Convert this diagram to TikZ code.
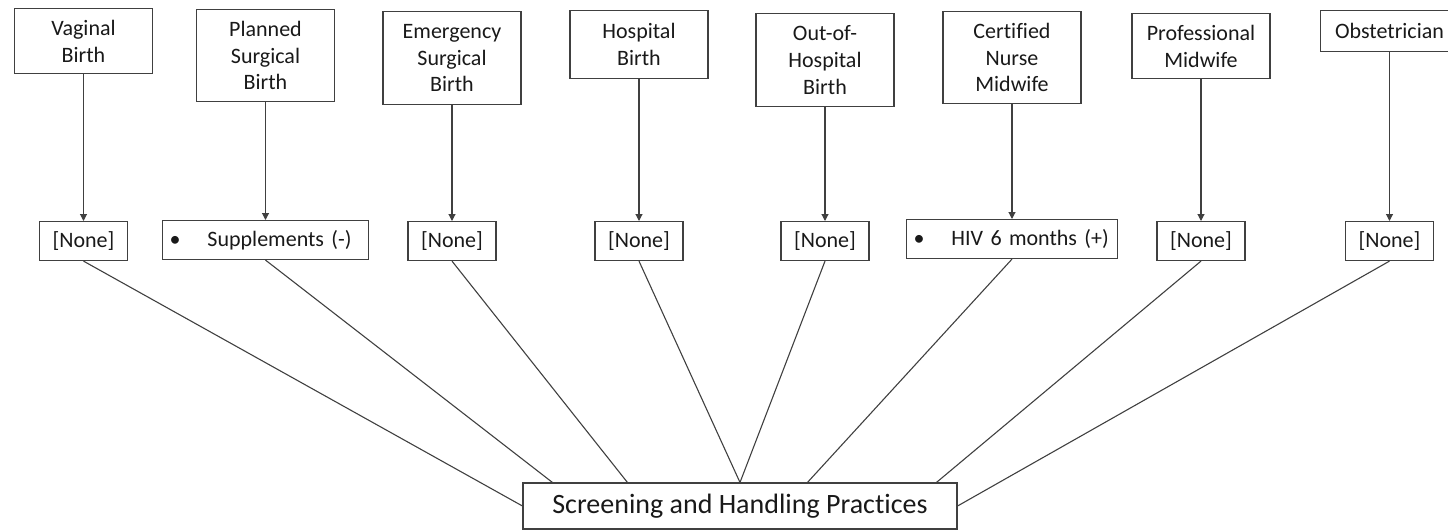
\documentclass[tikz,border=0pt]{standalone}
\usepackage{fontspec}
\setmainfont{Carlito}[Ligatures=NoCommon]
\usetikzlibrary{arrows.meta,calc}
\begin{document}
\begin{tikzpicture}[x=0.5pt,y=-0.5pt,
  stroke/.style={draw=black!75, line width=0.55pt},
  small/.style={font=\fontsize{11}{13.4}\selectfont, text=black!90},
  topbox/.style={stroke, small, anchor=north, text width=61pt, align=center,
    inner xsep=4pt, inner ysep=0pt},
  midbox/.style={stroke, small, anchor=north, minimum height=19.5pt,
    inner xsep=3.5pt, inner ysep=0pt},
  nonebox/.style={midbox, minimum width=44pt},
  listbox/.style={midbox, align=left},
  feedline/.style={stroke, -{Triangle[width=3.5pt,length=3.5pt]}},
  linkline/.style={stroke}]
  \clip (0,0) rectangle (1448,531);

  % categories along the top
  \node[topbox, minimum height=32.5pt] (t1) at (83.5,8)  {Vaginal\\Birth};
  \node[topbox, minimum height=46pt]   (t2) at (265.5,9) {Planned\\Surgical\\Birth};
  \node[topbox, minimum height=46.5pt] (t3) at (452,11)  {Emergency\\Surgical\\Birth};
  \node[topbox, minimum height=34pt]   (t4) at (639,10)  {Hospital\\Birth};
  \node[topbox, minimum height=46.5pt] (t5) at (825,13)  {Out-of-\\Hospital\\Birth};
  \node[topbox, minimum height=46pt]   (t6) at (1012,11) {Certified\\Nurse\\Midwife};
  \node[topbox, minimum height=32.5pt] (t7) at (1201,13) {Professional\\Midwife};
  \node[topbox, minimum height=20.5pt] (t8) at (1389.5,10) {Obstetrician};

  % findings for each category
  \node[nonebox] (m1) at (83.5,221) {[None]};
  \node[listbox, text width=96pt] (m2) at (265.5,220)
    {\makebox[19pt][l]{\textbullet}Supplements (-)};
  \node[nonebox] (m3) at (452,221) {[None]};
  \node[nonebox] (m4) at (639,221) {[None]};
  \node[nonebox] (m5) at (825,221) {[None]};
  \node[listbox, text width=98.5pt] (m6) at (1012,219)
    {\makebox[19pt][l]{\textbullet}HIV 6 months (+)};
  \node[nonebox] (m7) at (1201,221) {[None]};
  \node[nonebox] (m8) at (1389.5,221) {[None]};

  % summary box
  \node[stroke, minimum width=217pt, minimum height=23pt,
    font=\fontsize{14}{17}\selectfont, text=black!90] (bot) at (740,506)
    {Screening and Handling Practices};

  \coordinate (b2) at ($(bot.north west)+(30,0)$);
  \coordinate (b3) at ($(bot.north west)+(105,0)$);
  \coordinate (b6) at ($(bot.north west)+(285,0)$);
  \coordinate (b7) at ($(bot.north west)+(414,0)$);

  % arrows down to findings
  \foreach \i in {1,...,8} {
    \draw[feedline] (t\i.south) -- (m\i.north);
  }

  % lines into the summary
  \draw[linkline] (m1.south) -- (bot.west);
  \draw[linkline] (m2.south) -- (b2);
  \draw[linkline] (m3.south) -- (b3);
  \draw[linkline] (m4.south) -- (bot.north);
  \draw[linkline] (m5.south) -- (bot.north);
  \draw[linkline] (m6.south) -- (b6);
  \draw[linkline] (m7.south) -- (b7);
  \draw[linkline] (m8.south) -- (bot.east);
\end{tikzpicture}
\end{document}
